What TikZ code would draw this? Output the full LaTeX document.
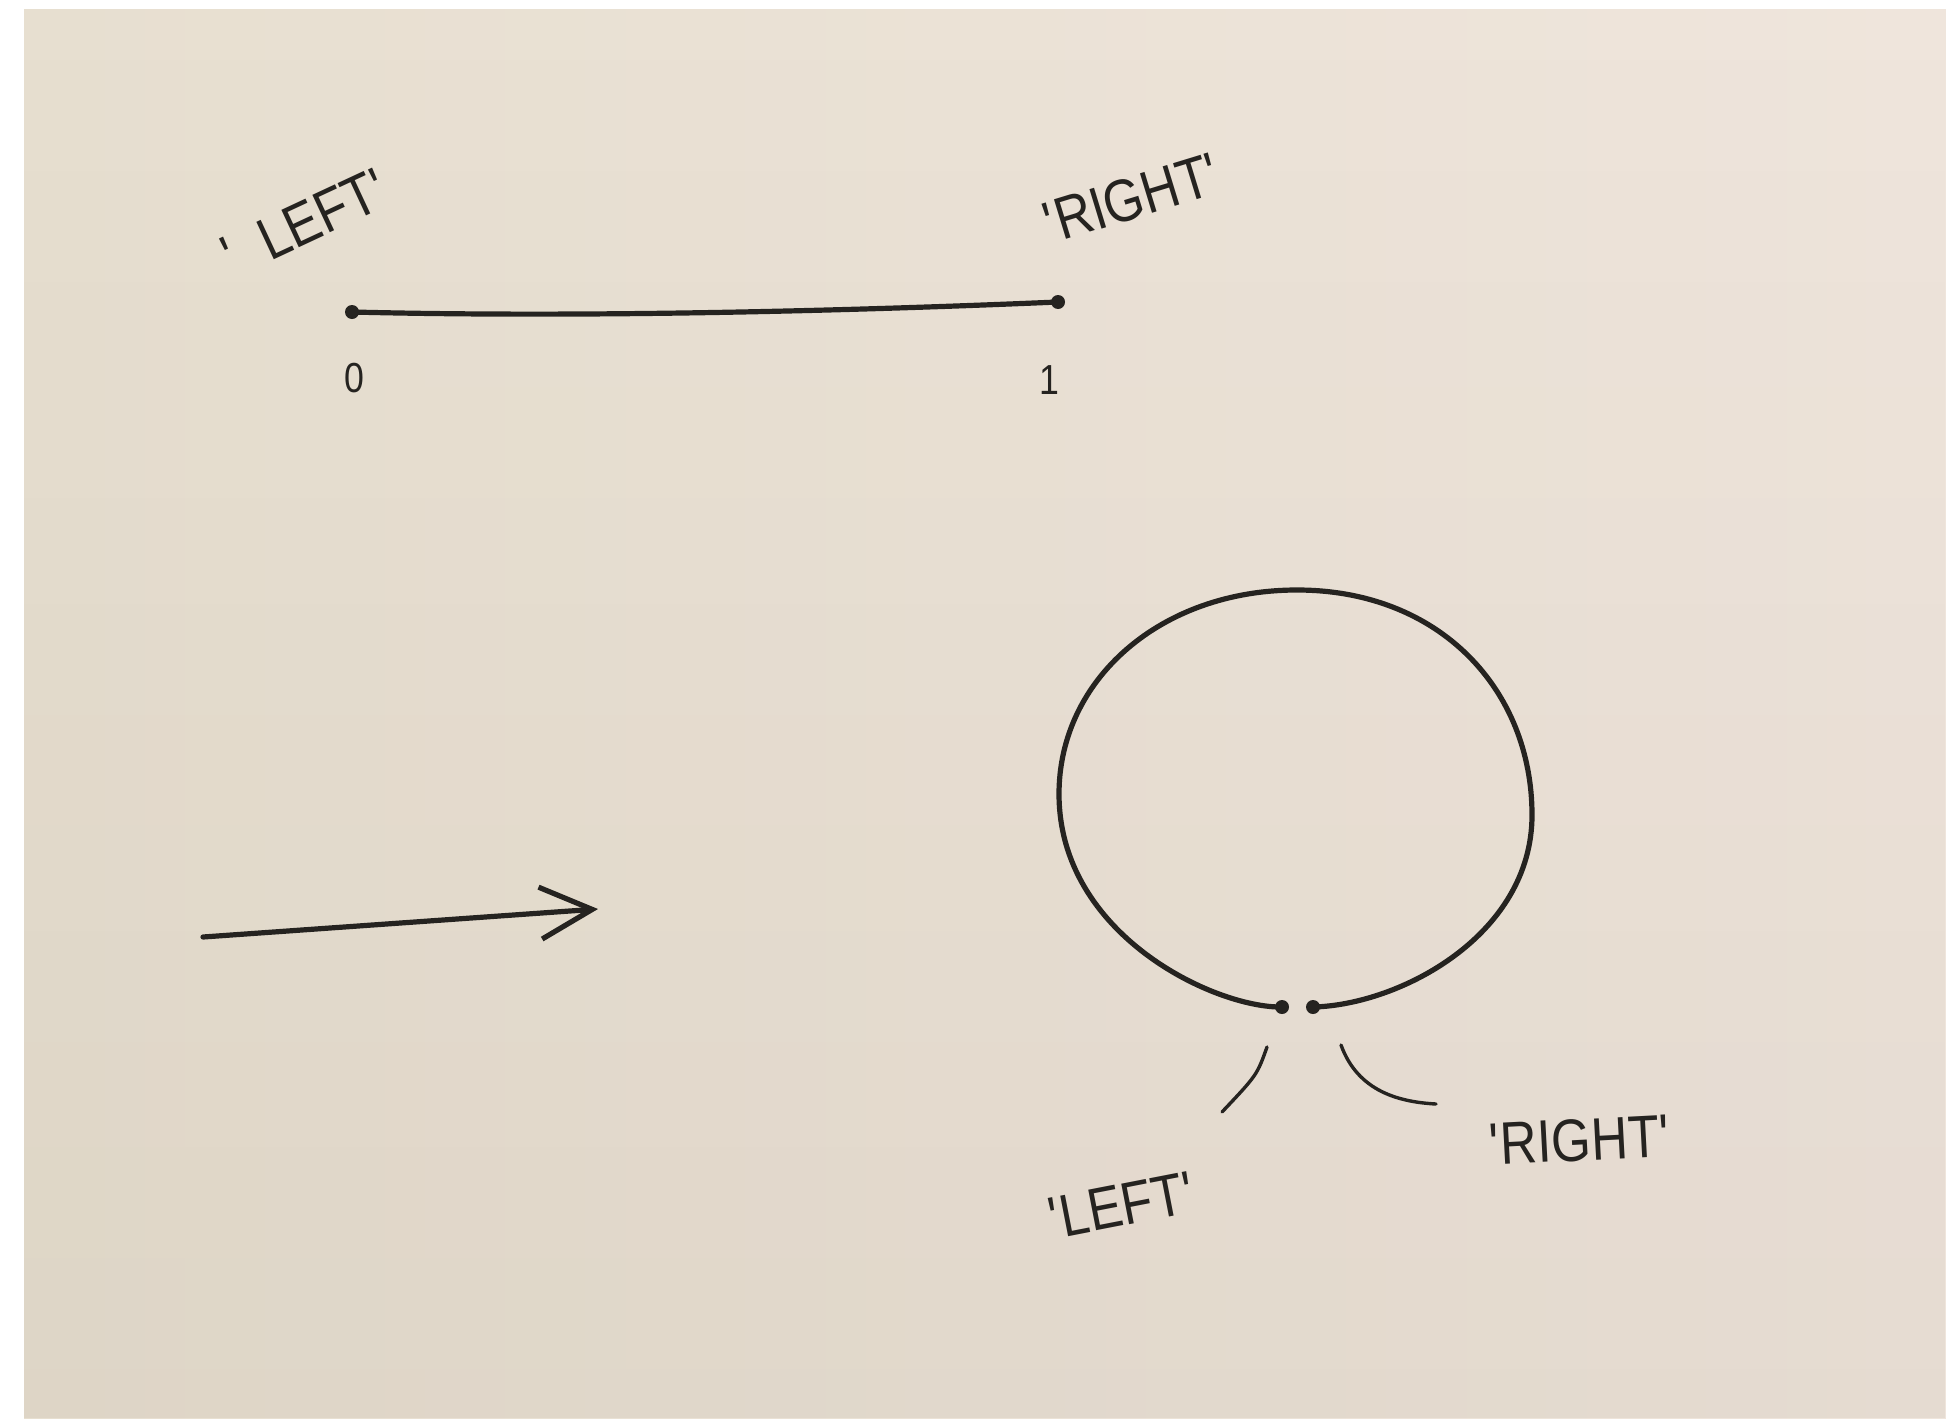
\documentclass[tikz,border=0pt]{standalone}
\usepackage{fontspec}
\setmainfont{Liberation Sans}[FakeStretch=0.85]
\usetikzlibrary{arrows.meta,fadings}
\definecolor{paperL}{HTML}{E7DFD0}
\definecolor{paperR}{HTML}{EFE5DC}
\definecolor{ink}{HTML}{252320}
\tikzset{
  pen/.style={draw=ink, line width=2.6pt, line cap=round, line join=round},
  thinpen/.style={draw=ink, line width=1.7pt, line cap=round},
  dotnode/.style={circle, fill=ink, inner sep=0pt, minimum size=7pt},
  hand/.style={text=ink, font=\fontsize{30}{33}\selectfont, inner sep=0pt},
  numlabel/.style={text=ink, font=\fontsize{21}{24}\selectfont, inner sep=0pt},
}
\newcommand{\qq}{\textquotesingle}
\begin{document}
\begin{tikzpicture}[x=0.5pt,y=-0.5pt]
% paper
\useasboundingbox (0,0) rectangle (1946,1418);
\fill[white] (0,0) rectangle (1946,1418);
\shade[left color=paperL, right color=paperR] (24,10) rectangle (1946,1418);
\fill[black!70!brown, opacity=0.05, path fading=north] (24,10) rectangle (1946,1418);
% top segment
\node[dotnode] (p0) at (352,312) {};
\node[dotnode] (p1) at (1058,302) {};
\draw[pen] (p0.center) .. controls (550,317) and (800,313) .. (p1.center);
\node[numlabel] (n0) at (354,378) {0};
\node[numlabel] (n1) at (1049,380) {1};
\node[hand, rotate=25] (tl) at (305,222) {\qq\ \ LEFT\qq};
\node[hand, rotate=17] (tr) at (1132,198) {\qq RIGHT\qq};
% arrow
\coordinate (a0) at (203,937);
\coordinate (a1) at (598,909);
\draw[pen, -{Straight Barb[length=26pt,width=26pt,line width=2.6pt]}] (a0) -- (a1);
% loop
\node[dotnode] (c0) at (1282,1007) {};
\node[dotnode] (c1) at (1313,1007) {};
\draw[pen] (c0.center) .. controls (1215,1008) and (1059,935) .. (1059,794)
  .. controls (1059,680) and (1160,590) .. (1297,590)
  .. controls (1440,590) and (1532,690) .. (1532,815)
  .. controls (1532,935) and (1400,1005) .. (c1.center);
% leaders
\coordinate (lL0) at (1267,1047);
\coordinate (lL1) at (1222,1112);
\coordinate (lR0) at (1341,1045);
\coordinate (lR1) at (1436,1104);
\draw[thinpen] (lL0) .. controls (1257,1075) .. (lL1);
\draw[thinpen] (lR0) .. controls (1358,1092) and (1400,1102) .. (lR1);
\node[hand, rotate=11] (bl) at (1122,1205) {\qq LEFT\qq};
\node[hand, rotate=3] (br) at (1580,1140) {\qq RIGHT\qq};
\end{tikzpicture}
\end{document}
